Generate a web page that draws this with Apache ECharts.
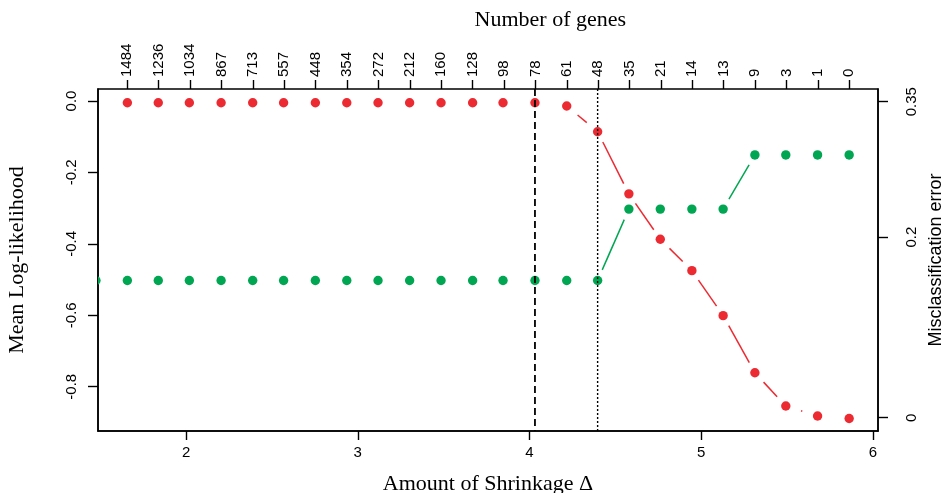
<!DOCTYPE html>
<html>
<head>
<meta charset="utf-8">
<script src="https://cdn.jsdelivr.net/npm/echarts@6/dist/echarts.min.js"></script>
<style>
  html, body { margin: 0; padding: 0; background: #fff; }
  #chart { width: 943px; height: 493px; }
</style>
</head>
<body>
<div id="chart"></div>
<script>
// Shrinkage amount (Delta) for each fitted model
const shrinkage = [1.475, 1.658, 1.838, 2.019, 2.204, 2.388, 2.568, 2.753, 2.936, 3.118,
                   3.302, 3.485, 3.669, 3.846, 4.032, 4.217, 4.397, 4.579, 4.762, 4.946,
                   5.128, 5.313, 5.493, 5.678, 5.862];
// Number of genes kept at each shrinkage value (top axis, from shrinkage[1] on)
const geneCounts = ['1484', '1236', '1034', '867', '713', '557', '448', '354', '272', '212',
                    '160', '128', '98', '78', '61', '48', '35', '21', '14', '13',
                    '9', '3', '1', '0'];
// Mean cross-validated log-likelihood (left axis)
const logLik = [null, -0.005, -0.005, -0.005, -0.005, -0.005, -0.005, -0.005, -0.005, -0.005,
                -0.005, -0.005, -0.005, -0.005, -0.005, -0.014, -0.086, -0.260, -0.387, -0.475,
                -0.601, -0.761, -0.854, -0.882, -0.889];
// Misclassification error (right axis)
const misclass = [0.152, 0.152, 0.152, 0.152, 0.152, 0.152, 0.152, 0.152, 0.152, 0.152,
                  0.152, 0.152, 0.152, 0.152, 0.152, 0.152, 0.152, 0.231, 0.231, 0.231,
                  0.231, 0.291, 0.291, 0.291, 0.291];
// Reference shrinkage values marked with vertical lines
const markedShrinkage = [4.032, 4.397];

const xTicks = [2, 3, 4, 5, 6];
const leftTicks = [0, -0.2, -0.4, -0.6, -0.8];
const rightTicks = [0, 0.2, 0.35];

const RED = '#EC2A31';
const GREEN = '#00A651';
const SANS = 'Liberation Sans';
const SERIF = 'Liberation Serif';

function pairs(xs, ys) {
  const out = [];
  for (let i = 1; i < xs.length; i++) {
    if (ys[i - 1] != null && ys[i] != null) out.push([xs[i - 1], ys[i - 1], xs[i], ys[i]]);
  }
  return out;
}
function points(xs, ys) {
  const out = [];
  for (let i = 0; i < xs.length; i++) if (ys[i] != null) out.push([xs[i], ys[i]]);
  return out;
}

// "both" style connectors: a segment between neighbours, leaving a gap round each point
function segmentRenderer(color) {
  return function (params, api) {
    const p0 = api.coord([api.value(0), api.value(1)]);
    const p1 = api.coord([api.value(2), api.value(3)]);
    const dx = p1[0] - p0[0], dy = p1[1] - p0[1];
    const len = Math.sqrt(dx * dx + dy * dy);
    const gap = 11.5 + 0.27 * Math.max(0, 50 - len);
    if (len <= 2 * gap) return null;
    const ux = dx / len, uy = dy / len;
    return {
      type: 'line',
      shape: { x1: p0[0] + ux * gap, y1: p0[1] + uy * gap, x2: p1[0] - ux * gap, y2: p1[1] - uy * gap },
      style: { stroke: color, lineWidth: 1.5 }
    };
  };
}
function dotRenderer(color) {
  return function (params, api) {
    const p = api.coord([api.value(0), api.value(1)]);
    return { type: 'circle', shape: { cx: p[0], cy: p[1], r: 4.7 }, style: { fill: color } };
  };
}

const axisLineStyle = { color: '#000', width: 1.5 };
const tickStyle = { color: '#000', width: 1.4 };

const chart = echarts.init(document.getElementById('chart'), null, { renderer: 'canvas' });

const option = {
  animation: false,
  backgroundColor: '#fff',
  grid: [
    { left: 98, right: 65, top: 89, bottom: 62, show: true, borderColor: '#000', borderWidth: 1.5,
      backgroundColor: 'transparent', containLabel: false, outerBoundsMode: 'none' },
    { left: 111.6, right: 78, top: 89, bottom: 62, show: false, containLabel: false, outerBoundsMode: 'none' }
  ],
  xAxis: [
    {
      type: 'value', gridIndex: 0, position: 'bottom', min: 1.487, max: 6.03,
      axisLine: { show: true, onZero: false, lineStyle: axisLineStyle },
      splitLine: { show: false },
      axisTick: { show: true, customValues: xTicks, length: 9, inside: false, lineStyle: tickStyle },
      axisLabel: { customValues: xTicks, color: '#000', fontFamily: SANS, fontSize: 15, margin: 14 },
      name: 'Amount of Shrinkage Δ', nameLocation: 'middle', nameGap: 42,
      nameTextStyle: { color: '#000', fontFamily: SERIF, fontSize: 22 }
    },
    {
      type: 'category', gridIndex: 1, position: 'top', data: geneCounts, boundaryGap: true,
      axisLine: { show: false, onZero: false },
      splitLine: { show: false },
      axisTick: { show: true, alignWithLabel: true, length: 9, lineStyle: tickStyle },
      axisLabel: { interval: 0, rotate: -90, color: '#000', fontFamily: SANS, fontSize: 15, margin: 12 },
      name: 'Number of genes', nameLocation: 'middle', nameGap: 58,
      nameTextStyle: { color: '#000', fontFamily: SERIF, fontSize: 22, padding: [0, 0, 0, 124] }
    }
  ],
  yAxis: [
    {
      type: 'value', gridIndex: 0, position: 'left', min: -0.924, max: 0.0336,
      axisLine: { show: true, onZero: false, lineStyle: axisLineStyle },
      splitLine: { show: false },
      axisTick: { show: true, customValues: leftTicks, length: 10, lineStyle: tickStyle },
      axisLabel: { customValues: leftTicks, rotate: 90, color: '#000', fontFamily: SANS, fontSize: 15, margin: 19,
                   formatter: v => v.toFixed(1) },
      name: 'Mean Log-likelihood', nameLocation: 'middle', nameRotate: 90, nameGap: 70,
      nameTextStyle: { color: '#000', fontFamily: SERIF, fontSize: 22 }
    },
    {
      type: 'value', gridIndex: 0, position: 'right', min: -0.0147, max: 0.364,
      axisLine: { show: true, onZero: false, lineStyle: axisLineStyle },
      splitLine: { show: false },
      axisTick: { show: true, customValues: rightTicks, length: 10, lineStyle: tickStyle },
      axisLabel: { customValues: rightTicks, rotate: 90, color: '#000', fontFamily: SANS, fontSize: 15, margin: 26,
                   formatter: v => String(v) },
      name: 'Misclassification error', nameLocation: 'middle', nameRotate: 90, nameGap: 49,
      nameTextStyle: { color: '#000', fontFamily: SANS, fontSize: 18 }
    },
    { type: 'value', gridIndex: 1, show: false, min: 0, max: 1 }
  ],
  series: [
    {
      name: 'logLikSegments', type: 'custom', xAxisIndex: 0, yAxisIndex: 0, clip: true, z: 2,
      data: pairs(shrinkage, logLik), renderItem: segmentRenderer(RED)
    },
    {
      name: 'misclassSegments', type: 'custom', xAxisIndex: 0, yAxisIndex: 1, clip: true, z: 2,
      data: pairs(shrinkage, misclass), renderItem: segmentRenderer(GREEN)
    },
    {
      name: 'logLik', type: 'custom', xAxisIndex: 0, yAxisIndex: 0, clip: true, z: 3,
      data: points(shrinkage, logLik), renderItem: dotRenderer(RED)
    },
    {
      name: 'misclass', type: 'custom', xAxisIndex: 0, yAxisIndex: 1, clip: true, z: 3,
      data: points(shrinkage, misclass), renderItem: dotRenderer(GREEN)
    },
    {
      name: 'marked', type: 'custom', xAxisIndex: 0, yAxisIndex: 0, clip: true, z: 4,
      data: markedShrinkage.map((x, i) => [x, i]),
      renderItem: function (params, api) {
        const px = api.coord([api.value(0), -0.4])[0];
        const cs = params.coordSys;
        const dashed = api.value(1) === 0;
        return {
          type: 'line',
          shape: { x1: px, y1: cs.y, x2: px, y2: cs.y + cs.height },
          style: dashed
            ? { stroke: '#000', lineWidth: 1.8, lineDash: [7, 4] }
            : { stroke: '#000', lineWidth: 1.4, lineDash: [2, 2] }
        };
      }
    }
  ]
};

chart.setOption(option);
</script>
</body>
</html>
